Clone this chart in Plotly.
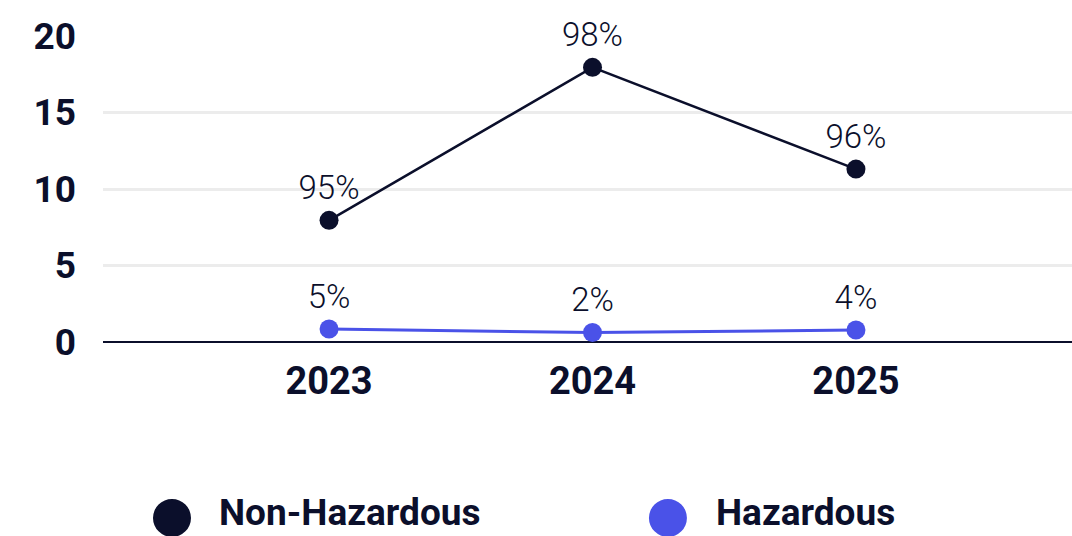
import plotly.graph_objects as go

years = ["2023", "2024", "2025"]
non_hazardous = [7.95, 17.95, 11.3]
hazardous = [0.85, 0.62, 0.78]
non_haz_labels = ["95%", "98%", "96%"]
haz_labels = ["5%", "2%", "4%"]
y_ticks = [0, 5, 10, 15, 20]
series_names = ["Non-Hazardous", "Hazardous"]

NAVY = "#0b0f2b"
BLUE = "#4a52e8"

fig = go.Figure()
fig.add_trace(go.Scatter(
    x=years, y=non_hazardous, mode="lines+markers+text",
    name=series_names[0], text=non_haz_labels, textposition="top center",
    line=dict(color=NAVY, width=2.5), marker=dict(color=NAVY, size=19),
    textfont=dict(family="Roboto", size=33, color=NAVY, weight=300),
    cliponaxis=False, showlegend=False,
))
fig.add_trace(go.Scatter(
    x=years, y=hazardous, mode="lines+markers+text",
    name=series_names[1], text=haz_labels, textposition="top center",
    line=dict(color=BLUE, width=3), marker=dict(color=BLUE, size=19),
    textfont=dict(family="Roboto", size=33, color=NAVY, weight=300),
    cliponaxis=False, showlegend=False,
))

# Custom legend (large circle markers), paper coords of a 969x306 plot area
legend_items = [(series_names[0], NAVY, 0.0712, 0.1187),
                (series_names[1], BLUE, 0.583, 0.6316)]
yc = -0.575
for name, col, xc, xt in legend_items:
    fig.add_shape(type="circle", xref="paper", yref="paper",
                  x0=xc - 0.0196, x1=xc + 0.0196, y0=yc - 0.062, y1=yc + 0.062,
                  fillcolor=col, line=dict(width=0))
    fig.add_annotation(xref="paper", yref="paper", x=xt, y=-0.556,
                       text=name, showarrow=False, xanchor="left", yanchor="middle",
                       borderpad=0,
                       font=dict(family="Roboto", size=37, color=NAVY, weight=700))

fig.update_layout(
    width=1072, height=536,
    margin=dict(l=103, r=0, t=36, b=194),
    plot_bgcolor="white", paper_bgcolor="white",
    xaxis=dict(range=[-0.858, 2.82], showgrid=False, zeroline=False,
               showline=False, ticks="", ticklabelstandoff=13,
               tickfont=dict(family="Roboto", size=38, color=NAVY, weight=700)),
    yaxis=dict(range=[0, 20], tickvals=y_ticks, showgrid=True,
               gridcolor="#ececec", gridwidth=2.5,
               zeroline=True, zerolinecolor=NAVY, zerolinewidth=2,
               showline=False, ticks="", ticklabelstandoff=26,
               tickfont=dict(family="Roboto", size=37, color=NAVY, weight=700)),
    showlegend=False,
)

fig.write_html("out.html")
